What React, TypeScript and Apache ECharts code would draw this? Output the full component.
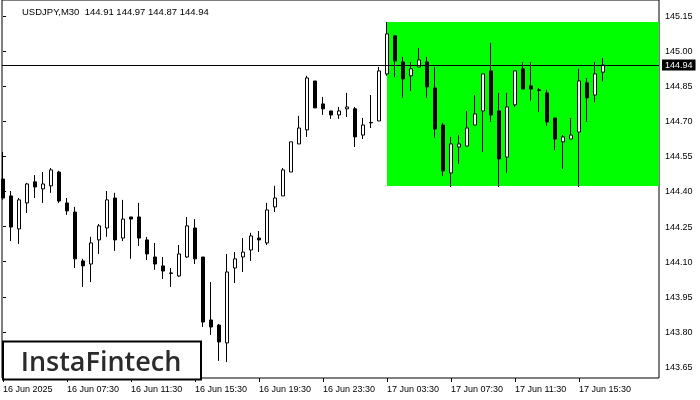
import React, { useEffect, useRef } from "react";
import * as echarts from "echarts";

const symbol = "USDJPY,M30";
const timeLabels = [
  "16 Jun 2025", "16 Jun 07:30", "16 Jun 11:30", "16 Jun 15:30", "16 Jun 19:30",
  "16 Jun 23:30", "17 Jun 03:30", "17 Jun 07:30", "17 Jun 11:30", "17 Jun 15:30",
];
const labelEvery = 8;

const open = [
  144.453, 144.381, 144.240, 144.351, 144.441, 144.411, 144.424, 144.483, 144.351, 144.312,
  144.103, 144.090, 144.193, 144.244, 144.372, 144.201, 144.291, 144.291, 144.193, 144.120,
  144.082, 144.052, 144.039, 144.120, 144.244, 144.120, 143.851, 143.829, 143.753, 144.073,
  144.120, 144.150, 144.201, 144.180, 144.334, 144.381, 144.483, 144.603, 144.663, 144.872,
  144.774, 144.744, 144.727, 144.753, 144.753, 144.641, 144.693, 144.701, 144.902, 145.065,
  144.953, 144.894, 144.932, 144.953, 144.842, 144.684, 144.479, 144.590, 144.594, 144.684,
  144.744, 144.915, 144.744, 144.547, 144.770, 144.924, 144.851, 144.834, 144.821, 144.714,
  144.612, 144.624, 144.654, 144.864, 144.812, 144.91,
];
const close = [
  144.372, 144.248, 144.364, 144.432, 144.419, 144.432, 144.492, 144.359, 144.317, 144.112,
  144.082, 144.180, 144.253, 144.364, 144.193, 144.282, 144.282, 144.201, 144.133, 144.090,
  144.060, 144.050, 144.133, 144.253, 144.112, 143.842, 143.821, 143.757, 144.056, 144.112,
  144.141, 144.210, 144.193, 144.321, 144.372, 144.492, 144.612, 144.671, 144.885, 144.757,
  144.753, 144.727, 144.744, 144.761, 144.633, 144.684, 144.695, 144.915, 145.073, 144.958,
  144.881, 144.924, 144.962, 144.847, 144.667, 144.488, 144.603, 144.603, 144.671, 144.731,
  144.902, 144.727, 144.539, 144.761, 144.915, 144.838, 144.838, 144.832, 144.697, 144.624,
  144.633, 144.641, 144.872, 144.800, 144.902, 144.94,
];
const low = [
  144.364, 144.188, 144.176, 144.308, 144.372, 144.351, 144.394, 144.351, 144.300, 144.073,
  143.992, 144.013, 144.133, 144.206, 144.146, 144.188, 144.112, 144.167, 144.107, 144.065,
  144.026, 143.992, 144.035, 144.116, 144.090, 143.821, 143.787, 143.676, 143.671, 144.009,
  144.056, 144.103, 144.141, 144.171, 144.312, 144.381, 144.483, 144.603, 144.633, 144.757,
  144.727, 144.710, 144.710, 144.718, 144.590, 144.624, 144.671, 144.701, 144.894, 144.889,
  144.800, 144.829, 144.932, 144.800, 144.629, 144.466, 144.419, 144.518, 144.594, 144.684,
  144.569, 144.697, 144.419, 144.479, 144.761, 144.838, 144.787, 144.740, 144.680, 144.577,
  144.496, 144.624, 144.419, 144.697, 144.782, 144.87,
];
const high = [
  144.569, 144.402, 144.372, 144.436, 144.470, 144.483, 144.500, 144.488, 144.372, 144.334,
  144.112, 144.206, 144.261, 144.402, 144.394, 144.364, 144.291, 144.351, 144.206, 144.180,
  144.120, 144.073, 144.171, 144.291, 144.282, 144.120, 144.013, 143.834, 144.133, 144.141,
  144.201, 144.223, 144.231, 144.351, 144.424, 144.500, 144.612, 144.723, 144.894, 144.872,
  144.804, 144.744, 144.761, 144.821, 144.761, 144.714, 144.812, 144.932, 145.124, 145.065,
  144.975, 144.953, 145.013, 144.975, 144.932, 144.693, 144.633, 144.641, 144.744, 144.812,
  144.902, 145.035, 144.821, 144.821, 144.915, 144.953, 144.953, 144.842, 144.834, 144.714,
  144.641, 144.714, 144.924, 144.885, 144.953, 144.97,
];

const priceTicks = [143.65, 143.8, 143.95, 144.1, 144.25, 144.4, 144.55, 144.7, 144.85, 145.0, 145.15];
const rangeTop = 145.124;
const rangeBottom = 144.423;
const rangeStartIndex = 48;
const lastPrice = 144.94;
const brand = "InstaFintech";

export default function App() {
  const ref = useRef<HTMLDivElement>(null);
  useEffect(() => {
    const chart = echarts.init(ref.current!, null, { renderer: "svg" });
    const n = open.length;
    const last = n - 1;
    const data = open.map((o, i) => [i, o, close[i], low[i], high[i]]);
    const xMin = -0.125;
    const xMax = 82;
    const yMin = 143.603;
    const yMax = 145.218;
    const labelIdx = timeLabels.map((_, k) => k * labelEvery);
    const font = "Liberation Sans";
    const titleText = `${symbol}  ${open[last].toFixed(2)} ${high[last].toFixed(2)} ${low[last].toFixed(2)} ${close[last].toFixed(2)}`;

    chart.setOption({
      animation: false,
      title: {
        text: titleText,
        left: 17,
        top: 1,
        textStyle: { fontFamily: font, fontSize: 9.5, fontWeight: "normal", color: "#000" },
      },
      grid: {
        left: 2,
        right: 41,
        top: 0,
        bottom: 22,
        show: true,
        borderColor: "#000",
        borderWidth: 1,
        backgroundColor: "transparent",
      },
      xAxis: {
        type: "value",
        min: xMin,
        max: xMax,
        axisLine: { show: false },
        splitLine: { show: false },
        axisTick: { show: true, customValues: labelIdx, length: 4, lineStyle: { color: "#000" } },
        axisLabel: {
          customValues: labelIdx,
          formatter: (v: number) => timeLabels[Math.round(v / labelEvery)] ?? "",
          align: "left",
          margin: 6,
          fontFamily: font,
          fontSize: 9,
          color: "#000",
        },
      },
      yAxis: [
        {
          type: "value",
          position: "right",
          min: yMin,
          max: yMax,
          axisLine: { show: false },
          splitLine: { show: false },
          axisTick: { show: true, customValues: priceTicks, length: 3, lineStyle: { color: "#000" } },
          axisLabel: {
            customValues: priceTicks,
            formatter: (v: number) => v.toFixed(2),
            margin: 6,
            fontFamily: font,
            fontSize: 9,
            color: "#000",
          },
        },
        {
          type: "value",
          position: "right",
          min: yMin,
          max: yMax,
          axisLine: { show: false },
          splitLine: { show: false },
          axisTick: { show: false },
          axisLabel: {
            customValues: [lastPrice],
            formatter: (v: number) => v.toFixed(2),
            margin: 3,
            backgroundColor: "#000",
            color: "#fff",
            padding: [1, 3, 1, 3],
            fontFamily: font,
            fontSize: 9,
          },
        },
      ],
      series: [
        {
          type: "candlestick",
          data,
          barWidth: 4,
          z: 3,
          itemStyle: {
            color: "#ffffff",
            color0: "#000000",
            borderColor: "#000000",
            borderColor0: "#000000",
            borderColorDoji: "#000000",
            borderWidth: 1,
          },
          markArea: {
            silent: true,
            z: 1,
            itemStyle: { color: "#00ff00", opacity: 1 },
            data: [[{ coord: [rangeStartIndex, rangeTop] }, { coord: [xMax, rangeBottom] }]],
          },
          markLine: {
            silent: true,
            symbol: ["none", "none"],
            label: { show: false },
            lineStyle: { color: "#000", width: 1, type: "solid" },
            data: [{ yAxis: lastPrice }],
          },
        },
      ],
      graphic: [
        {
          type: "rect",
          shape: { x: 3, y: 341.5, width: 198, height: 38 },
          style: { fill: "#fff", stroke: "#000", lineWidth: 2 },
          z: 10,
        },
        {
          type: "text",
          x: 101,
          y: 360,
          z: 11,
          style: {
            text: brand,
            fill: "#2b2b2b",
            fontFamily: "Open Sans",
            fontSize: 27,
            fontWeight: 600,
            align: "center",
            verticalAlign: "middle",
          },
        },
      ],
    });
    return () => chart.dispose();
  }, []);
  return <div ref={ref} style={{ position: "fixed", left: 0, top: 0, width: 700, height: 400 }} />;
}
